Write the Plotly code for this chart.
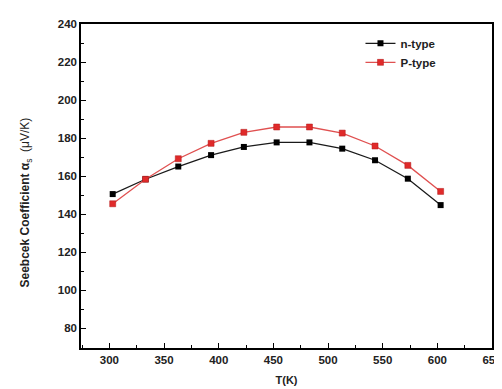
import plotly.graph_objects as go

temps = [303, 333, 363, 393, 423, 453, 483, 513, 543, 573, 603]
n_type = [150.5, 158.3, 165.0, 171.0, 175.3, 177.7, 177.7, 174.4, 168.3, 158.6, 144.7]
p_type = [145.4, 158.3, 169.1, 177.2, 183.0, 185.8, 185.8, 182.6, 175.8, 165.6, 151.9]
x_ticks = [300, 350, 400, 450, 500, 550, 600, 650]
y_ticks = [80, 100, 120, 140, 160, 180, 200, 220, 240]

font_main = "Liberation Sans, Arial, sans-serif"
txt_col = "#222222"

fig = go.Figure()
fig.add_trace(go.Scatter(
    x=temps, y=n_type, mode="lines+markers", name="<b>n-type</b>",
    line=dict(color="#1a1a1a", width=1.3),
    marker=dict(symbol="square", size=6, color="#000000"),
))
fig.add_trace(go.Scatter(
    x=temps, y=p_type, mode="lines+markers", name="<b>P-type</b>",
    line=dict(color="#e05050", width=1.3),
    marker=dict(symbol="square", size=6, color="#e02a2a",
                line=dict(color="#b01818", width=0.5)),
))

axis_common = dict(
    showline=True, linecolor="#000000", linewidth=1.5, mirror=True,
    ticks="inside", ticklen=5, tickwidth=1, tickcolor="#000000",
    showgrid=False, zeroline=False,
    tickfont=dict(family=font_main, size=11.5, color=txt_col, weight="bold"),
)

fig.update_xaxes(
    range=[274, 650], tickvals=x_ticks, ticktext=[str(v) for v in x_ticks],
    minor=dict(ticks="inside", ticklen=3, tickcolor="#000000", dtick=25, tick0=275),
    title=dict(text="<b>T(K)</b>", font=dict(family=font_main, size=11, color=txt_col), standoff=12),
    **axis_common,
)
fig.update_yaxes(
    range=[69.5, 240], tickvals=y_ticks, ticktext=[str(v) for v in y_ticks],
    minor=dict(ticks="inside", ticklen=3, tickcolor="#000000", dtick=10, tick0=70),
    **axis_common,
)

fig.add_annotation(
    x=-0.133, y=0.45, xref="paper", yref="paper", textangle=-90,
    xanchor="center", yanchor="middle",
    text="<b>Seebcek Coefficient α</b><sub>s</sub>  (μV/K)",
    showarrow=False, font=dict(family=font_main, size=12, color=txt_col),
)

fig.update_layout(
    width=502, height=389,
    margin=dict(l=73, r=8, t=16, b=49),
    paper_bgcolor="#ffffff", plot_bgcolor="#ffffff",
    showlegend=True,
    legend=dict(x=0.68, y=0.985, xanchor="left", yanchor="top",
                bgcolor="rgba(0,0,0,0)", tracegroupgap=0, itemwidth=30,
                font=dict(family=font_main, size=11.5, color=txt_col)),
)

fig.write_html("out.html")
